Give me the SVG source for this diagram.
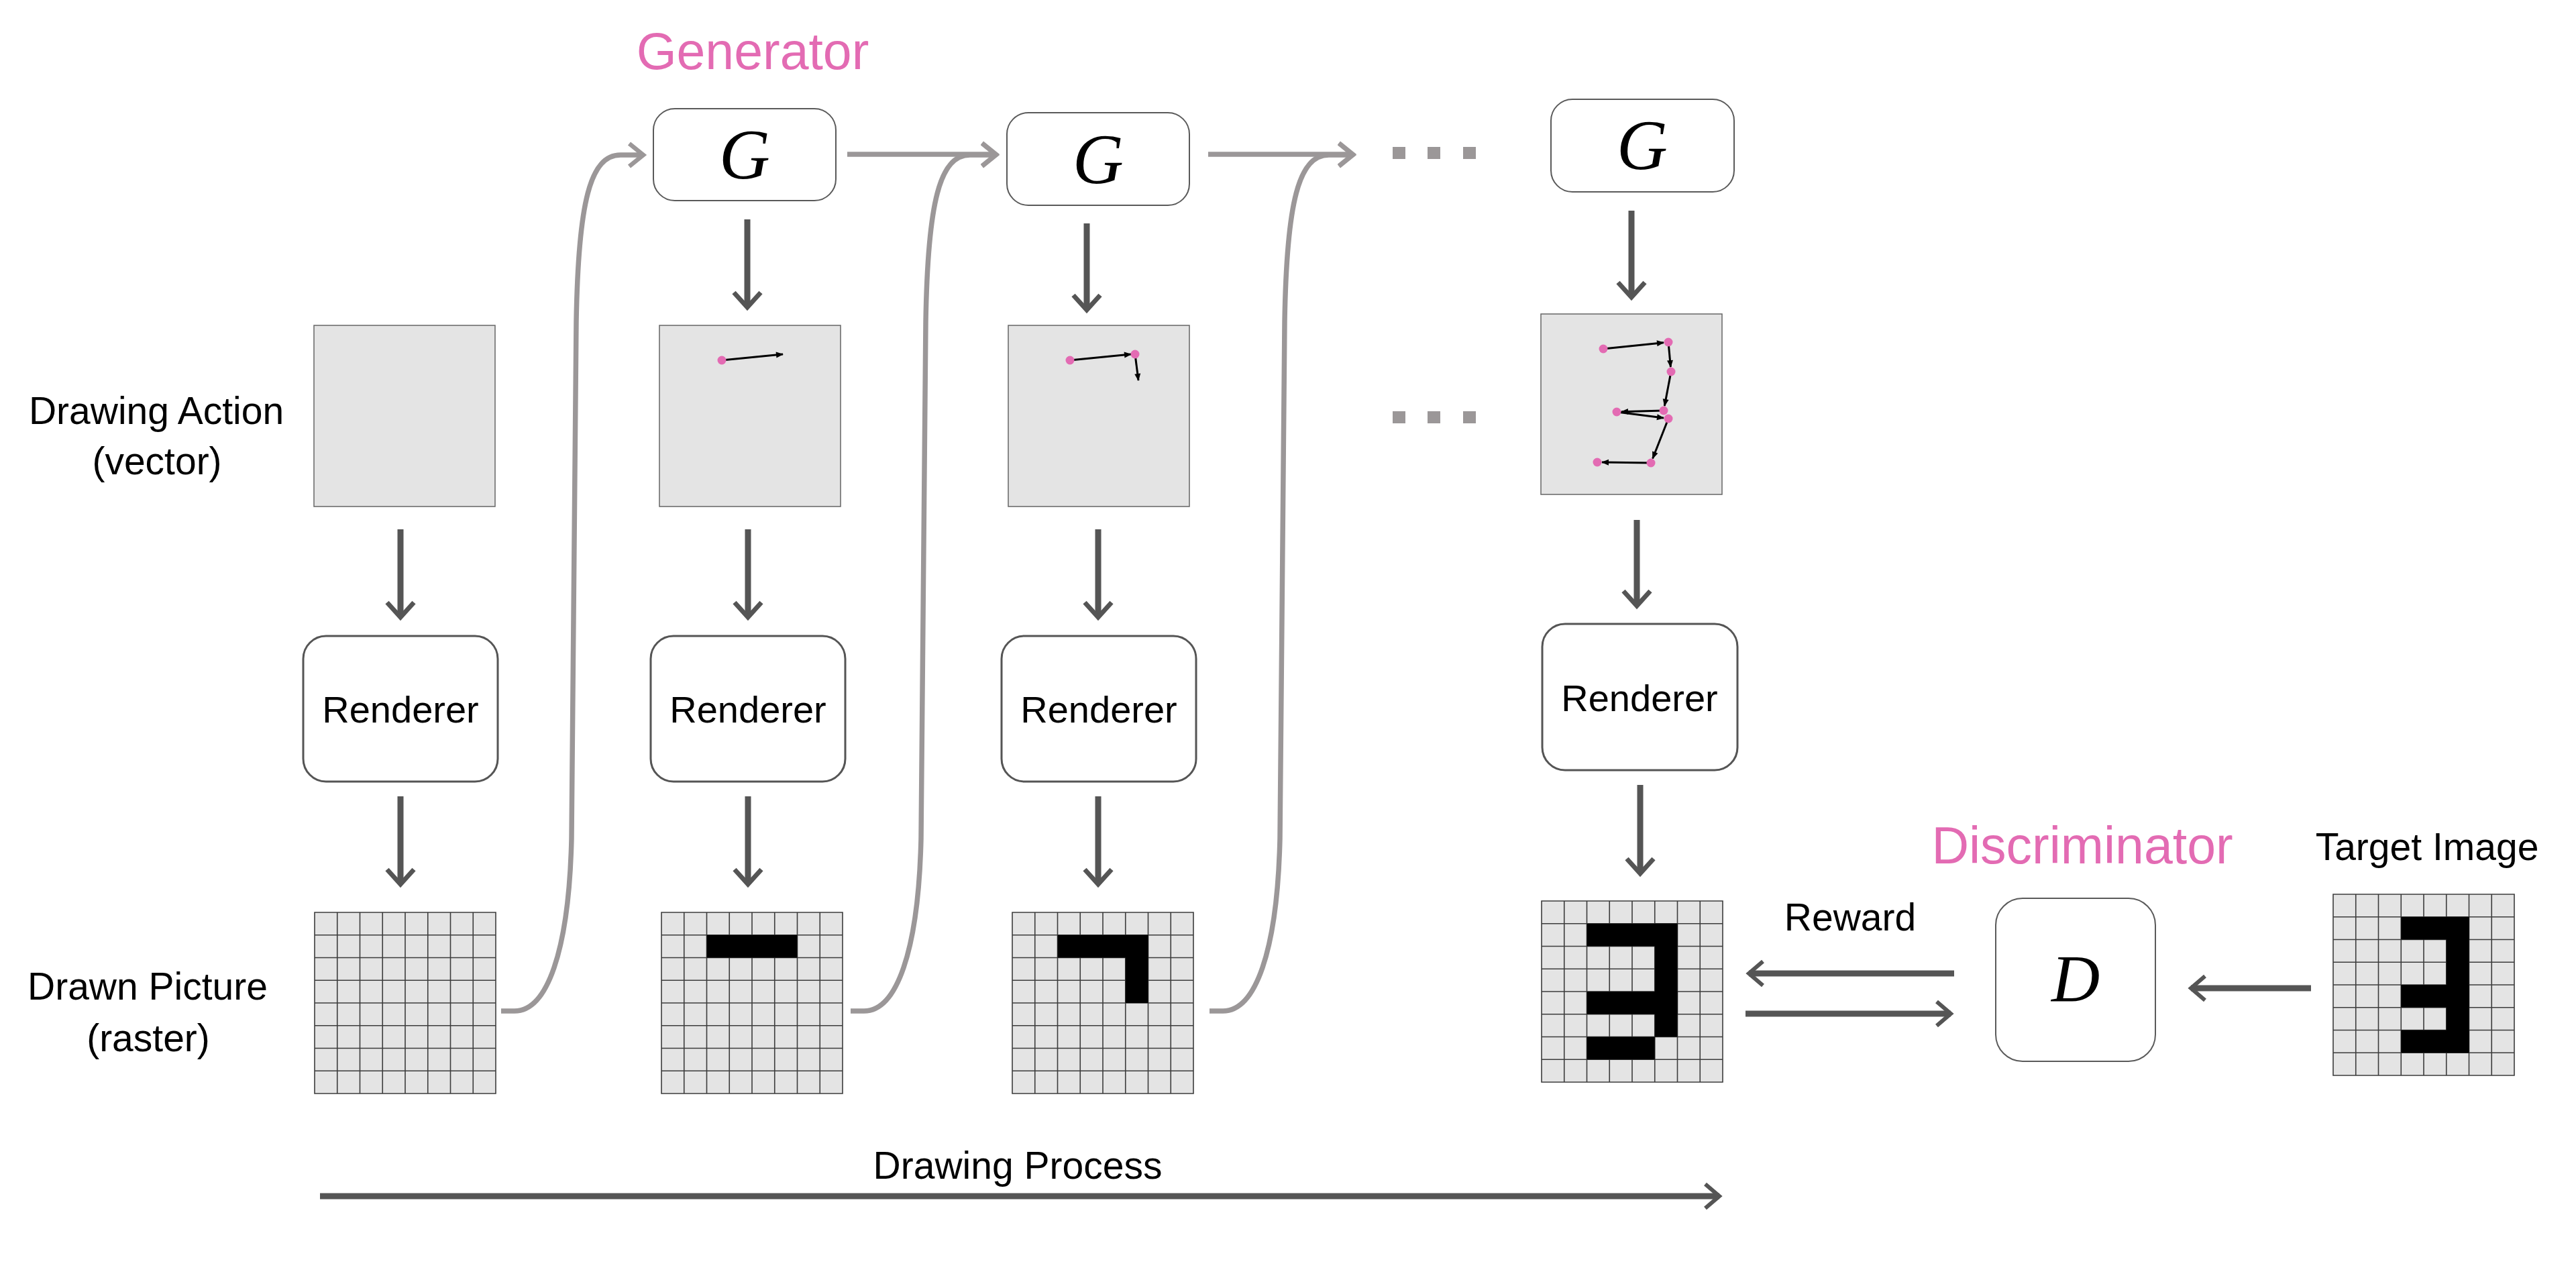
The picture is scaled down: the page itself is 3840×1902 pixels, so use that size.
<svg xmlns="http://www.w3.org/2000/svg" xmlns:xlink="http://www.w3.org/1999/xlink" width="3840" height="1902" viewBox="0 0 3840 1902">
<style>
.lbl{font-family:"Liberation Sans",Arial,sans-serif;font-size:57px;fill:#000;text-anchor:middle}
.rt{font-family:"Liberation Sans",Arial,sans-serif;font-size:56px;fill:#000;text-anchor:middle}
.pink{font-family:"Liberation Sans",Arial,sans-serif;font-size:77px;fill:#e36bb3;text-anchor:middle}
.math{font-family:"Liberation Serif","Times New Roman",serif;font-style:italic;fill:#000;text-anchor:middle}
.gbox{fill:#fff;stroke:#5a5a5a;stroke-width:2}
.rbox{fill:#fff;stroke:#555;stroke-width:3}
.vbox{fill:#e4e4e4;stroke:#666;stroke-width:1.5}
.bg{fill:#e4e4e4}
.blk{fill:#000}
.gl{fill:none;stroke:#3c3c3c;stroke-width:1.6}
.dark{fill:none;stroke:#555;stroke-width:9}
.gray{fill:none;stroke:#9b9798;stroke-width:7.5}
.vec{fill:none;stroke:#000;stroke-width:3}
.dot{fill:#e36bb3}
.sq{fill:#9b9798}
</style>
<defs>
<marker id="ahg" markerUnits="userSpaceOnUse" orient="auto" overflow="visible" refX="0" refY="0" markerWidth="1" markerHeight="1">
<path d="M-21,-17 L0,0 L-21,17" fill="none" stroke="#9b9798" stroke-width="6.5"/>
</marker>
<marker id="ahd" markerUnits="userSpaceOnUse" orient="auto" overflow="visible" refX="0" refY="0" markerWidth="1" markerHeight="1">
<path d="M-22,-20 L0,0 L-22,20" fill="none" stroke="#555" stroke-width="7"/>
</marker>
<marker id="ahd2" markerUnits="userSpaceOnUse" orient="auto" overflow="visible" refX="0" refY="0" markerWidth="1" markerHeight="1">
<path d="M-21,-18 L0,0 L-21,18" fill="none" stroke="#555" stroke-width="6"/>
</marker>
<marker id="ahs" markerUnits="userSpaceOnUse" orient="auto" overflow="visible" refX="0" refY="0" markerWidth="1" markerHeight="1">
<path d="M1,0 L-10,-4.5 L-10,4.5 Z" fill="#000"/>
</marker>
<path id="gridlines" class="gl" d="M0,0 H270 V270 H0 Z M33.75,0 V270 M67.5,0 V270 M101.25,0 V270 M135,0 V270 M168.75,0 V270 M202.5,0 V270 M236.25,0 V270 M0,33.75 H270 M0,67.5 H270 M0,101.25 H270 M0,135 H270 M0,168.75 H270 M0,202.5 H270 M0,236.25 H270"/>
</defs>
<rect width="3840" height="1902" fill="#fff"/>

<g id="labels">
<text class="pink" x="1122" y="103">Generator</text>
<text class="pink" x="3104" y="1287">Discriminator</text>
<text class="lbl" x="233" y="632">Drawing Action</text>
<text class="lbl" x="234" y="707">(vector)</text>
<text class="lbl" x="220" y="1490">Drawn Picture</text>
<text class="lbl" x="221" y="1567">(raster)</text>
<text class="lbl" x="3618" y="1282">Target Image</text>
<text class="lbl" x="2758" y="1387">Reward</text>
<text class="lbl" x="1517" y="1757">Drawing Process</text>
</g>

<g id="connectors">
<path class="gray" marker-end="url(#ahg)" d="M747,1507 L767,1507 C815,1507 848,1420 852,1250 L859,480 C862,300 880,231 925,231 L959,231"/>
<path class="gray" marker-end="url(#ahg)" d="M1268,1507 L1288,1507 C1336,1507 1369,1420 1373,1250 L1380,480 C1383,300 1401,231 1446,231 L1485,231"/>
<path class="gray" marker-end="url(#ahg)" d="M1803,1507 L1823,1507 C1871,1507 1904,1420 1908,1250 L1915,480 C1918,300 1936,231 1981,231 L2017,231"/>
<path class="gray" marker-end="url(#ahg)" d="M1263,230 L1485,230"/>
<path class="gray" marker-end="url(#ahg)" d="M1801,230 L2017,230"/>
<path class="dark" marker-end="url(#ahd)" d="M597,789 V920"/>
<path class="dark" marker-end="url(#ahd)" d="M597,1187 V1318"/>
<path class="dark" marker-end="url(#ahd)" d="M1114,327 V458"/>
<path class="dark" marker-end="url(#ahd)" d="M1115,789 V920"/>
<path class="dark" marker-end="url(#ahd)" d="M1115,1187 V1318"/>
<path class="dark" marker-end="url(#ahd)" d="M1620,333 V462"/>
<path class="dark" marker-end="url(#ahd)" d="M1637,789 V920"/>
<path class="dark" marker-end="url(#ahd)" d="M1637,1187 V1318"/>
<path class="dark" marker-end="url(#ahd)" d="M2432,314 V443"/>
<path class="dark" marker-end="url(#ahd)" d="M2440,775 V903"/>
<path class="dark" marker-end="url(#ahd)" d="M2445,1170 V1302"/>
<path class="dark" marker-end="url(#ahd2)" d="M2913,1451 H2607"/>
<path class="dark" marker-end="url(#ahd2)" d="M2602,1511 H2908"/>
<path class="dark" marker-end="url(#ahd2)" d="M3445,1473 H3266"/>
<path class="dark" marker-end="url(#ahd2)" d="M477,1783 H2563"/>
</g>

<g id="ellipsis-top">
<rect class="sq" x="2076" y="219" width="19" height="18"/>
<rect class="sq" x="2128" y="219" width="19" height="18"/>
<rect class="sq" x="2181" y="219" width="19" height="18"/>
</g>
<g id="ellipsis-mid">
<rect class="sq" x="2076" y="613" width="19" height="18"/>
<rect class="sq" x="2128" y="613" width="19" height="18"/>
<rect class="sq" x="2181" y="613" width="19" height="18"/>
</g>

<g id="generator-1">
<rect class="gbox" x="974" y="162" width="272" height="137" rx="32"/>
<text class="math" x="1110" y="266" font-size="105">G</text>
</g>
<g id="generator-2">
<rect class="gbox" x="1501" y="168" width="272" height="138" rx="32"/>
<text class="math" x="1637" y="273" font-size="105">G</text>
</g>
<g id="generator-3">
<rect class="gbox" x="2312" y="148" width="273" height="138" rx="32"/>
<text class="math" x="2448" y="252" font-size="105">G</text>
</g>

<g id="action-1">
<rect class="vbox" x="468" y="485" width="270" height="270"/>
</g>
<g id="action-2">
<rect class="vbox" x="983" y="485" width="270" height="270"/>
<path class="vec" marker-end="url(#ahs)" d="M1076,537 L1167,528"/>
<circle class="dot" cx="1076" cy="537" r="6.5"/>
</g>
<g id="action-3">
<rect class="vbox" x="1503" y="485" width="270" height="270"/>
<path class="vec" marker-end="url(#ahs)" d="M1595,537 L1686,528"/>
<path class="vec" marker-end="url(#ahs)" d="M1692,528 L1697,567"/>
<circle class="dot" cx="1595" cy="537" r="6.5"/>
<circle class="dot" cx="1692" cy="528" r="6.5"/>
</g>
<g id="action-4">
<rect class="vbox" x="2297" y="468" width="270" height="269"/>
<path class="vec" marker-end="url(#ahs)" d="M2390,520 L2480,510.7"/>
<path class="vec" marker-end="url(#ahs)" d="M2487,510 L2490.4,547"/>
<path class="vec" marker-end="url(#ahs)" d="M2491,554 L2481.3,605"/>
<path class="vec" marker-end="url(#ahs)" d="M2480,612 L2417,613.8"/>
<path class="vec" marker-end="url(#ahs)" d="M2410,614 L2480,623.1"/>
<path class="vec" marker-end="url(#ahs)" d="M2487,624 L2463.6,683.5"/>
<path class="vec" marker-end="url(#ahs)" d="M2461,690 L2388,689.1"/>
<circle class="dot" cx="2390" cy="520" r="6.5"/>
<circle class="dot" cx="2487" cy="510" r="6.5"/>
<circle class="dot" cx="2491" cy="554" r="6.5"/>
<circle class="dot" cx="2480" cy="612" r="6.5"/>
<circle class="dot" cx="2410" cy="614" r="6.5"/>
<circle class="dot" cx="2487" cy="624" r="6.5"/>
<circle class="dot" cx="2461" cy="690" r="6.5"/>
<circle class="dot" cx="2381" cy="689" r="6.5"/>
</g>

<g id="renderer-1">
<rect class="rbox" x="452" y="948" width="290" height="217" rx="34"/>
<text class="rt" x="597" y="1077">Renderer</text>
</g>
<g id="renderer-2">
<rect class="rbox" x="970" y="948" width="290" height="217" rx="34"/>
<text class="rt" x="1115" y="1077">Renderer</text>
</g>
<g id="renderer-3">
<rect class="rbox" x="1493" y="948" width="290" height="217" rx="34"/>
<text class="rt" x="1638" y="1077">Renderer</text>
</g>
<g id="renderer-4">
<rect class="rbox" x="2299" y="930" width="291" height="218" rx="34"/>
<text class="rt" x="2444" y="1060">Renderer</text>
</g>

<g id="picture-1" transform="translate(469,1360)">
<rect class="bg" width="270" height="270"/>
<use xlink:href="#gridlines"/>
</g>
<g id="picture-2" transform="translate(986,1360)">
<rect class="bg" width="270" height="270"/>
<use xlink:href="#gridlines"/>
<rect class="blk" x="67.5" y="33.75" width="135" height="33.75"/>
</g>
<g id="picture-3" transform="translate(1509,1360)">
<rect class="bg" width="270" height="270"/>
<use xlink:href="#gridlines"/>
<rect class="blk" x="67.5" y="33.75" width="135" height="33.75"/>
<rect class="blk" x="168.75" y="33.75" width="33.75" height="101.25"/>
</g>
<g id="picture-4" transform="translate(2298,1343)">
<rect class="bg" width="270" height="270"/>
<use xlink:href="#gridlines"/>
<rect class="blk" x="67.5" y="33.75" width="135" height="33.75"/>
<rect class="blk" x="168.75" y="33.75" width="33.75" height="168.75"/>
<rect class="blk" x="67.5" y="135" width="135" height="33.75"/>
<rect class="blk" x="67.5" y="202.5" width="101.25" height="33.75"/>
</g>
<g id="target-image" transform="translate(3478,1333)">
<rect class="bg" width="270" height="270"/>
<use xlink:href="#gridlines"/>
<rect class="blk" x="101.25" y="33.75" width="101.25" height="33.75"/>
<rect class="blk" x="168.75" y="33.75" width="33.75" height="202.5"/>
<rect class="blk" x="101.25" y="135" width="101.25" height="33.75"/>
<rect class="blk" x="101.25" y="202.5" width="101.25" height="33.75"/>
</g>

<g id="discriminator">
<rect class="gbox" x="2975" y="1339" width="238" height="243" rx="40"/>
<text class="math" x="3094" y="1492" font-size="100">D</text>
</g>
</svg>
